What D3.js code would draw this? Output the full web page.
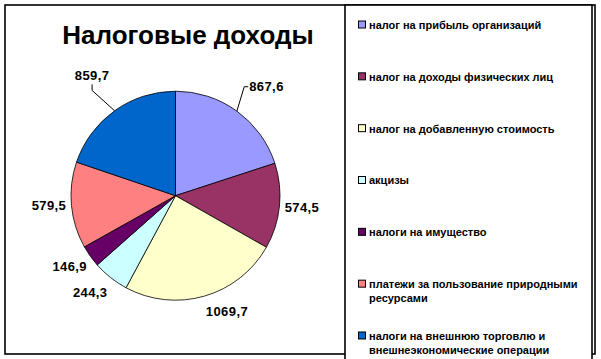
<!DOCTYPE html>
<html><head><meta charset="utf-8">
<script src="https://cdn.jsdelivr.net/npm/d3@7"></script>
<style>
html,body{margin:0;padding:0;background:#fff;}
svg{display:block;}
text{font-family:"Liberation Sans",Arial,sans-serif;font-weight:bold;fill:#000;}
</style></head>
<body>
<svg id="chart" width="601" height="359"></svg>
<script>
// ---- data ----
const title = "Налоговые доходы";
const categories = [
  "налог на прибыль организаций",
  "налог на доходы физических лиц",
  "налог на добавленную стоимость",
  "акцизы",
  "налоги на имущество",
  "платежи за пользование природными\nресурсами",
  "налоги на внешнюю торговлю и\nвнешнеэкономические операции"
];
const values = [867.6, 574.5, 1069.7, 244.3, 146.9, 579.5, 859.7];
const colors = ["#9999FF", "#993366", "#FFFFCC", "#CCFFFF", "#660066", "#FF8080", "#0066CC"];

// ---- layout (not data) ----
const W = 601, H = 359;
const cx = 175.5, cy = 195.7, R = 104.5;
// label placement along slice mid-angle: [angle nudge in degrees, radius]
const labelPlacement = [[3.9,142],[-0.3,127],[-7.8,127],[3,129],[1.8,127],[0.8,127],[0.8,146]];
const leader = [true,false,false,false,false,false,true];

const svg = d3.select("#chart");

// outer border
svg.append("rect").attr("x",5).attr("y",5).attr("width",590).attr("height",349)
  .attr("fill","#fff").attr("stroke","#000").attr("stroke-width",1.6);

// title
svg.append("text").attr("x",188).attr("y",44).attr("text-anchor","middle")
  .style("font-size","26px").text(title);

// pie
const pie = d3.pie().sort(null).value(d=>d);
const arcs = pie(values);
const arc = d3.arc().innerRadius(0).outerRadius(R);
const g = svg.append("g").attr("transform",`translate(${cx},${cy})`);
g.selectAll("path").data(arcs).join("path")
  .attr("d",arc).attr("fill",(d,i)=>colors[i])
  .attr("stroke","#000").attr("stroke-width",0.8).attr("stroke-linejoin","round");

const fmt = v => d3.format(".1f")(v).replace(".", ",");

arcs.forEach((a,i)=>{
  const mid = (a.startAngle + a.endAngle)/2;
  const ang = mid + labelPlacement[i][0]*Math.PI/180;
  const rl = labelPlacement[i][1];
  const lx = Math.sin(ang)*rl, ly = -Math.cos(ang)*rl;
  const t = g.append("text").attr("x",lx).attr("y",ly).attr("dy","0.35em")
    .attr("text-anchor","middle").style("font-size","13px").style("letter-spacing","0.4px")
    .text(fmt(values[i]));
  if (leader[i]) {
    const bb = t.node().getBBox();
    const ex = Math.sin(mid)*R, ey = -Math.cos(mid)*R;
    const dx = lx-ex, dy = ly-ey;
    let pts;
    if (Math.abs(dx) > Math.abs(dy)) {
      const sx = dx>0 ? bb.x-1 : bb.x+bb.width+1;
      const sy = ly;
      const kx = dx>0 ? sx-4 : sx+4;
      pts = [[ex,ey],[kx,sy],[sx,sy]];
    } else {
      const sx = lx;
      const sy = dy<0 ? bb.y+bb.height+1 : bb.y-1;
      const ky = dy<0 ? sy+6 : sy-6;
      pts = [[ex,ey],[sx,ky],[sx,sy]];
    }
    g.append("path").attr("d",d3.line()(pts)).attr("fill","none")
      .attr("stroke","#000").attr("stroke-width",1);
  }
});

// legend box
svg.append("rect").attr("x",345).attr("y",5).attr("width",247).attr("height",360)
  .attr("fill","#fff").attr("stroke","#000").attr("stroke-width",1.6);

const ly = d3.scalePoint().domain(categories).range([25, 336]);
const lg = svg.append("g");
categories.forEach((c,i)=>{
  const y = ly(c);
  lg.append("rect").attr("x",358.5).attr("y",y-4).attr("width",7).attr("height",7)
    .attr("fill",colors[i]).attr("stroke","#000").attr("stroke-width",1);
  const t = lg.append("text").attr("x",369).attr("y",y).attr("dy","0.35em")
    .style("font-size","11px");
  c.split("\n").forEach((line,j)=>{
    t.append("tspan").attr("x",369).attr("dy", j===0 ? "0.35em" : "14px").text(line);
  });
});
</script>
</body></html>
